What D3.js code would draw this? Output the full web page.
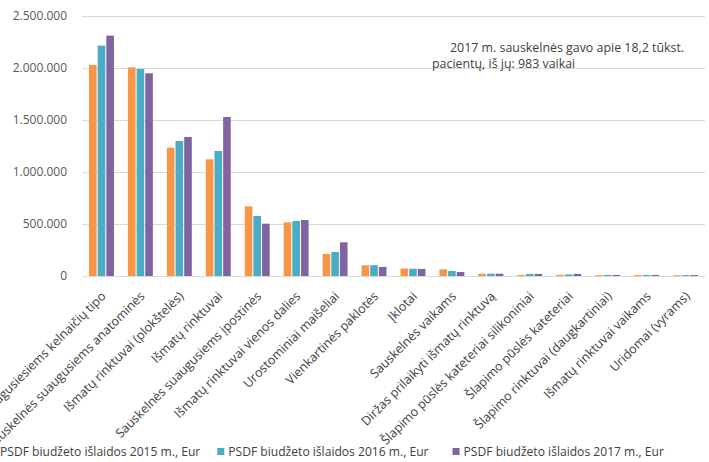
<!DOCTYPE html>
<html><head><meta charset="utf-8">
<script src="https://cdn.jsdelivr.net/npm/d3@7"></script>
<style>body{margin:0;background:#fff;}svg{display:block;font-family:"Open Sans",sans-serif;}</style>
</head><body>
<svg id="c" width="709" height="462"></svg>
<script>
const categories = [
  "Sauskelnės suaugusiesiems kelnaičių tipo",
  "Sauskelnės suaugusiems anatominės",
  "Išmatų rinktuvai (plokštelės)",
  "Išmatų rinktuvai",
  "Sauskelnės suaugusiems įpostinės",
  "Išmatų rinktuvai vienos dalies",
  "Urostominiai maišeliai",
  "Vienkartinės paklotės",
  "Įklotai",
  "Sauskelnės vaikams",
  "Diržas prilaikyti išmatų rinktuvą",
  "Šlapimo pūslės kateteriai silikoniniai",
  "Šlapimo pūslės kateteriai",
  "Šlapimo rinktuvai (daugkartiniai)",
  "Išmatų rinktuvai vaikams",
  "Uridomai (vyrams)"
];
const seriesNames = [
  "PSDF biudžeto išlaidos 2015 m., Eur",
  "PSDF biudžeto išlaidos 2016 m., Eur",
  "PSDF biudžeto išlaidos 2017 m., Eur"
];
const values2015 = [2030000, 2006000, 1234000, 1122000, 670000, 516000, 212000, 103000, 72000, 64000, 22000, 10000, 12000, 9000, 9000, 8000];
const values2016 = [2215000, 1990000, 1298000, 1202000, 577000, 529000, 231000, 104000, 70000, 48000, 22000, 20000, 15000, 10000, 10000, 9000];
const values2017 = [2311000, 1949000, 1337000, 1529000, 503000, 538000, 324000, 87000, 68000, 38000, 22000, 20000, 20000, 10000, 10000, 9000];
const yTicks = [0, 500000, 1000000, 1500000, 2000000, 2500000];
const colors = ["#F79646", "#4BACC6", "#8064A2"];
const noteLines = ["2017 m. sauskelnės gavo apie 18,2 tūkst.", "pacientų, iš jų: 983 vaikai"];

const series = [values2015, values2016, values2017];
const svg = d3.select("#c");
const m = {left: 82, right: 4, top: 16, bottom: 186};
const W = 709, H = 462;
const x0 = d3.scaleBand().domain(categories).range([m.left, W - m.right]).paddingInner(0.36).paddingOuter(0.18);
const x1 = d3.scaleBand().domain([0,1,2]).range([0, x0.bandwidth()]).paddingInner(0.12);
const y = d3.scaleLinear().domain([0, 2500000]).range([H - m.bottom, m.top]);
const fmt = v => d3.format(",")(v).replace(/,/g, ".");

// grid
svg.append("g").selectAll("line").data(yTicks).join("line")
  .attr("x1", m.left).attr("x2", W - m.right)
  .attr("y1", d => y(d) + 0.5).attr("y2", d => y(d) + 0.5)
  .attr("stroke", "#d9d9d9").attr("stroke-width", 1);

// y axis
const ya = svg.append("g").attr("transform", `translate(${m.left},0)`)
  .call(d3.axisLeft(y).tickValues(yTicks).tickFormat(fmt).tickSize(0).tickPadding(15));
ya.select(".domain").remove();
ya.selectAll("text").attr("fill", "#595959").style("font-size", "12px").style("font-family", "Open Sans");

// bars
const g = svg.append("g");
categories.forEach((c, i) => {
  series.forEach((s, k) => {
    g.append("rect")
      .attr("x", x0(c) + x1(k))
      .attr("y", y(s[i]))
      .attr("width", x1.bandwidth())
      .attr("height", y(0) - y(s[i]))
      .attr("fill", colors[k]);
  });
});

// x axis
const xa = svg.append("g").attr("transform", `translate(0,${y(0)})`)
  .call(d3.axisBottom(x0).tickSize(0).tickPadding(0));
xa.select(".domain").remove();
xa.selectAll("text")
  .attr("fill", "#404040")
  .style("font-size", "12.5px").style("font-family", "Open Sans")
  .attr("text-anchor", "end")
  .attr("dy", "0")
  .attr("transform", "translate(5,21) rotate(-45)");

// note
const note = svg.append("text").attr("fill", "#404040").style("font-size", "12.4px");
note.append("tspan").attr("x", 450).attr("y", 52).text(noteLines[0]);
note.append("tspan").attr("x", 432).attr("y", 68).text(noteLines[1]);

// legend
const lg = svg.append("g").attr("transform", `translate(0,${H - 6})`);
let lx = -11;
const gaps = [17, 24, 0];
seriesNames.forEach((n, k) => {
  lg.append("rect").attr("x", lx).attr("y", -8).attr("width", 7).attr("height", 7).attr("fill", colors[k]);
  const t = lg.append("text").attr("x", lx + 11).attr("y", 0).attr("fill", "#404040").style("font-size", "12.1px").text(n);
  lx += 11 + t.node().getComputedTextLength() + gaps[k];
});
</script>
</body></html>
